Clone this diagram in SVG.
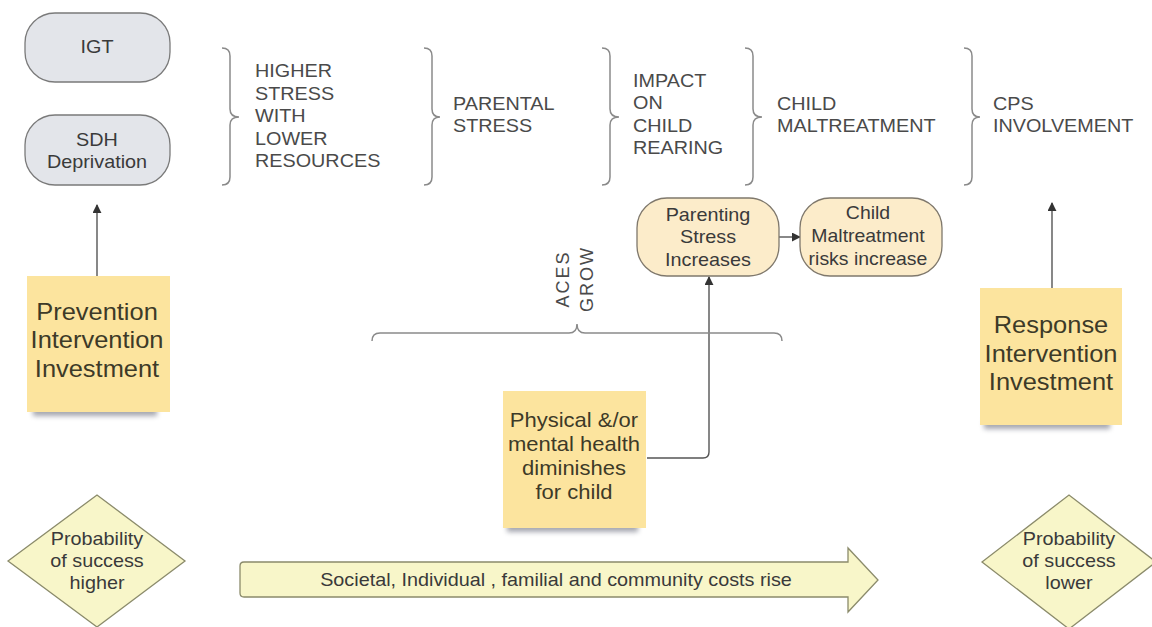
<svg xmlns="http://www.w3.org/2000/svg" width="1152" height="627" viewBox="0 0 1152 627">
  <style>
    text { font-family: "Liberation Sans", Arial, sans-serif; }
    .lbl { font-size: 18px; fill: #4a4a4a; }
    .node { font-size: 18px; fill: #3a3a3a; text-anchor: middle; }
    .note { fill: #3d3a28; text-anchor: middle; }
    .brace { fill: none; stroke: #8a8a8a; stroke-width: 1.5; }
    .pill-grey { fill: #e3e5ea; stroke: #7a7a7a; stroke-width: 1.3; }
    .pill-cream { fill: #fcecca; stroke: #7f786c; stroke-width: 1.3; }
    .sticky { fill: #fce49e; }
    .shadow { fill: #5d6070; opacity: 0.55; filter: url(#soft); }
    .diamond { fill: #f8f6c9; stroke: #8b8b6b; stroke-width: 1.3; }
    .link { fill: none; stroke: #555; stroke-width: 1.4; }
  </style>
  <defs>
    <filter id="soft" x="-20%" y="-100%" width="140%" height="300%">
      <feGaussianBlur stdDeviation="2.5"/>
    </filter>
    <marker id="head" viewBox="0 0 10 10" refX="9" refY="5" markerWidth="9" markerHeight="9" markerUnits="userSpaceOnUse" orient="auto">
      <path d="M0,0 L10,5 L0,10 z" fill="#333"/>
    </marker>
  </defs>

  <rect width="1152" height="627" fill="#fff"/>

  <!-- Top row: drivers -->
  <g id="igt">
    <rect class="pill-grey" x="25" y="13" width="145" height="69" rx="30"/>
    <text class="node" transform="translate(97,0) scale(1.1,1)" x="0" y="53">IGT</text>
  </g>
  <g id="sdh">
    <rect class="pill-grey" x="25" y="115" width="145" height="70" rx="30"/>
    <text class="node" transform="translate(97,0) scale(1.1,1)"><tspan x="0" y="146">SDH</tspan><tspan x="0" y="168">Deprivation</tspan></text>
  </g>

  <!-- Stage braces and labels -->
  <g id="stage-stress">
    <path class="brace" d="M222,48 Q230,48 230,56 V109 Q230,117 239,117 Q230,117 230,125 V177 Q230,185 222,185"/>
    <text class="lbl" transform="translate(255,0) scale(1.1,1)"><tspan x="0" y="77">HIGHER</tspan><tspan x="0" y="99.6">STRESS</tspan><tspan x="0" y="122.2">WITH</tspan><tspan x="0" y="144.8">LOWER</tspan><tspan x="0" y="167.4">RESOURCES</tspan></text>
  </g>
  <g id="stage-parental">
    <path class="brace" d="M424,48 Q432,48 432,56 V109 Q432,117 440,117 Q432,117 432,125 V177 Q432,185 424,185"/>
    <text class="lbl" transform="translate(453,0) scale(1.1,1)"><tspan x="0" y="110">PARENTAL</tspan><tspan x="0" y="132">STRESS</tspan></text>
  </g>
  <g id="stage-rearing">
    <path class="brace" d="M602,48 Q610,48 610,56 V109 Q610,117 619,117 Q610,117 610,125 V177 Q610,185 602,185"/>
    <text class="lbl" transform="translate(633,0) scale(1.1,1)"><tspan x="0" y="87">IMPACT</tspan><tspan x="0" y="109.5">ON</tspan><tspan x="0" y="132">CHILD</tspan><tspan x="0" y="154.5">REARING</tspan></text>
  </g>
  <g id="stage-maltreatment">
    <path class="brace" d="M745,48 Q753,48 753,56 V109 Q753,117 762,117 Q753,117 753,125 V177 Q753,185 745,185"/>
    <text class="lbl" transform="translate(777,0) scale(1.1,1)"><tspan x="0" y="110">CHILD</tspan><tspan x="0" y="132">MALTREATMENT</tspan></text>
  </g>
  <g id="stage-cps">
    <path class="brace" d="M964,48 Q972,48 972,56 V109 Q972,117 980,117 Q972,117 972,125 V177 Q972,185 964,185"/>
    <text class="lbl" transform="translate(993,0) scale(1.1,1)"><tspan x="0" y="110">CPS</tspan><tspan x="0" y="132">INVOLVEMENT</tspan></text>
  </g>

  <!-- Connectors -->
  <g id="connectors">
    <line class="link" x1="97" y1="276" x2="97" y2="205" marker-end="url(#head)"/>
    <line class="link" x1="1052" y1="288" x2="1052" y2="203" marker-end="url(#head)"/>
    <path class="link" d="M647,458 H703 Q709,458 709,452 V277" marker-end="url(#head)"/>
    <line class="link" x1="779" y1="237" x2="800" y2="237" marker-end="url(#head)"/>
  </g>

  <!-- Middle nodes -->
  <g id="parenting-stress">
    <rect class="pill-cream" x="637" y="198" width="142" height="78" rx="30"/>
    <text class="node" transform="translate(708,0) scale(1.1,1)"><tspan x="0" y="221">Parenting</tspan><tspan x="0" y="243.5">Stress</tspan><tspan x="0" y="266">Increases</tspan></text>
  </g>
  <g id="maltreatment-risk">
    <rect class="pill-cream" x="800" y="198" width="142" height="78" rx="30"/>
    <text class="node" transform="translate(868,0) scale(1.08,1)"><tspan x="0" y="219">Child</tspan><tspan x="0" y="242">Maltreatment</tspan><tspan x="0" y="265">risks increase</tspan></text>
  </g>

  <g id="aces-grow">
    <path class="brace" d="M372,341 Q372,333 380,333 H569 Q577,333 577,324 Q577,333 585,333 H774 Q782,333 782,341"/>
    <text class="lbl" transform="translate(569,279) rotate(-90)" text-anchor="middle" letter-spacing="2"><tspan x="0" y="0">ACES</tspan><tspan x="0" y="24">GROW</tspan></text>
  </g>

  <!-- Investment notes -->
  <g id="prevention">
    <rect class="shadow" x="33" y="406" width="124" height="10"/>
    <rect class="sticky" x="27" y="276" width="143" height="136"/>
    <text class="note" font-size="24" transform="translate(97,0) scale(1.06,1)"><tspan x="0" y="320">Prevention</tspan><tspan x="0" y="348.5">Intervention</tspan><tspan x="0" y="377">Investment</tspan></text>
  </g>
  <g id="response">
    <rect class="shadow" x="984" y="419" width="126" height="10"/>
    <rect class="sticky" x="980" y="288" width="142" height="137"/>
    <text class="note" font-size="24" transform="translate(1051,0) scale(1.06,1)"><tspan x="0" y="333">Response</tspan><tspan x="0" y="362">Intervention</tspan><tspan x="0" y="390">Investment</tspan></text>
  </g>
  <g id="health">
    <rect class="shadow" x="507" y="522" width="131" height="10"/>
    <rect class="sticky" x="503" y="391" width="143" height="137"/>
    <text class="note" font-size="20" transform="translate(574,0) scale(1.1,1)"><tspan x="0" y="427">Physical &amp;/or</tspan><tspan x="0" y="451">mental health</tspan><tspan x="0" y="475">diminishes</tspan><tspan x="0" y="499">for child</tspan></text>
  </g>

  <!-- Bottom row -->
  <g id="success-higher">
    <polygon class="diamond" points="8,561 97,495 185,561 97,627"/>
    <text class="node" transform="translate(97,0) scale(1.1,1)"><tspan x="0" y="545">Probability</tspan><tspan x="0" y="567">of success</tspan><tspan x="0" y="589">higher</tspan></text>
  </g>
  <g id="costs-rise">
    <path class="diamond" d="M244,562 H848 V548 L878,580 L848,612 V597 H244 Q240,597 240,593 V566 Q240,562 244,562 Z"/>
    <text class="node" transform="translate(556,0) scale(1.1,1)" x="0" y="586">Societal, Individual , familial and community costs rise</text>
  </g>
  <g id="success-lower">
    <polygon class="diamond" points="982,562 1069,495 1156,562 1069,629"/>
    <text class="node" transform="translate(1069,0) scale(1.1,1)"><tspan x="0" y="545">Probability</tspan><tspan x="0" y="567">of success</tspan><tspan x="0" y="589">lower</tspan></text>
  </g>
</svg>
